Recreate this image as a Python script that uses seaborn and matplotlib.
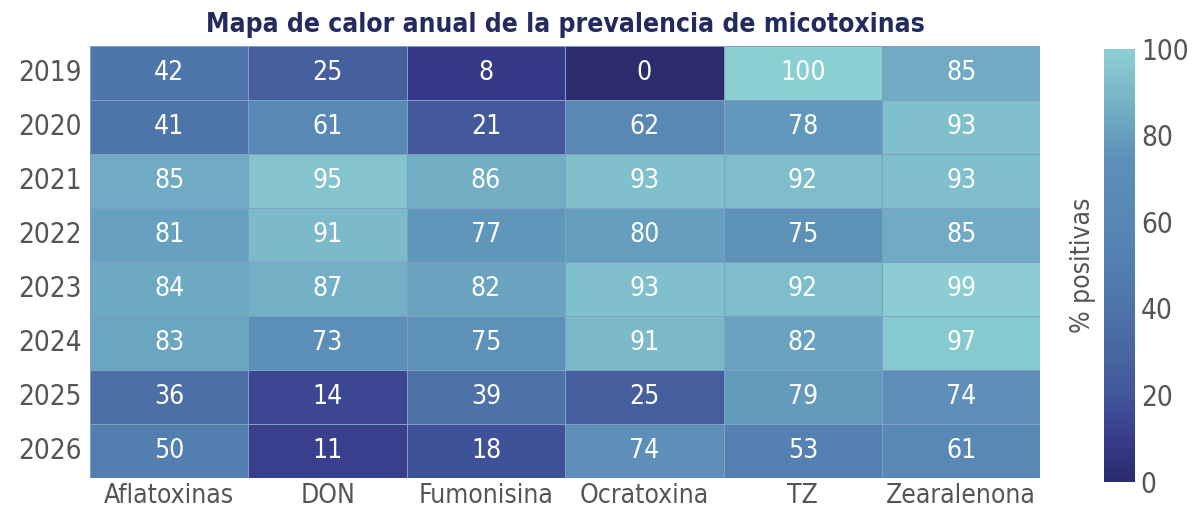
import numpy as np
import pandas as pd
import matplotlib
matplotlib.use("Agg")
import matplotlib.pyplot as plt
import seaborn as sns
from matplotlib.colors import LinearSegmentedColormap

# Datos
anios = ["2019", "2020", "2021", "2022", "2023", "2024", "2025", "2026"]
micotoxinas = ["Aflatoxinas", "DON", "Fumonisina", "Ocratoxina", "TZ", "Zearalenona"]
aflatoxinas = [42, 41, 85, 81, 84, 83, 36, 50]
don = [25, 61, 95, 91, 87, 73, 14, 11]
fumonisina = [8, 21, 86, 77, 82, 75, 39, 18]
ocratoxina = [0, 62, 93, 80, 93, 91, 25, 74]
tz = [100, 78, 92, 75, 92, 82, 79, 53]
zearalenona = [85, 93, 93, 85, 99, 97, 74, 61]

df = pd.DataFrame(
    {"Aflatoxinas": aflatoxinas, "DON": don, "Fumonisina": fumonisina,
     "Ocratoxina": ocratoxina, "TZ": tz, "Zearalenona": zearalenona},
    index=anios,
)[micotoxinas]

sns.set_style("white")
plt.rcParams["font.family"] = ["DejaVu Sans"]
plt.rcParams["font.stretch"] = "condensed"

# Escala de colores azul marino -> turquesa claro
cmap = LinearSegmentedColormap.from_list(
    "mico",
    [(0.0, "#2a2c6e"), (0.1, "#383c8c"), (0.2, "#42579a"), (0.3, "#4866a2"),
     (0.4, "#4e74a9"), (0.5, "#527fb0"), (0.6, "#5887b5"), (0.75, "#5d90b8"),
     (0.82, "#69a3c0"), (0.9, "#7ab8c8"), (1.0, "#8ccfd3")],
)

fig = plt.figure(figsize=(12, 5.15), dpi=100)
ax = fig.add_axes([0.075, 0.072, 0.792, 0.838])
cax = fig.add_axes([0.92, 0.065, 0.026, 0.84])

sns.heatmap(
    df, ax=ax, cbar_ax=cax, cmap=cmap, vmin=0, vmax=100,
    annot=True, fmt="d", linewidths=0.6, linecolor="#7f9fc4",
    annot_kws={"size": 19, "color": "white"},
)

ax.set_xlabel("")
ax.set_ylabel("")
ax.tick_params(axis="x", labelsize=19, colors="#555555", length=0, pad=4)
ax.tick_params(axis="y", labelsize=20, colors="#555555", length=0, pad=6, rotation=0)
ax.set_title("Mapa de calor anual de la prevalencia de micotoxinas",
             fontsize=19, fontweight="bold", color="#232a5e", pad=10)

cax.tick_params(labelsize=20, colors="#555555", length=0, pad=4)
cax.set_ylabel("% positivas", fontsize=19, color="#555555", labelpad=6)
cax.yaxis.set_label_position("left")
for s in cax.spines.values():
    s.set_visible(False)

fig.savefig("out.png", dpi=100)
